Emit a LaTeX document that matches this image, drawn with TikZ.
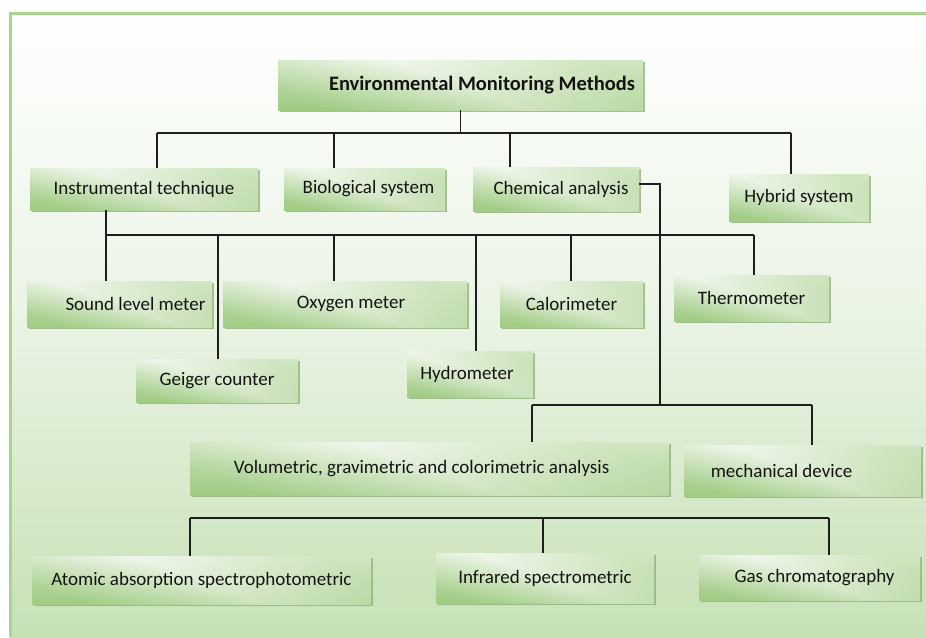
\documentclass[tikz,border=0pt]{standalone}
\usepackage{fontspec}
\setmainfont{Carlito}
\usetikzlibrary{shadows}
\definecolor{gA}{HTML}{A1CC84}
\definecolor{gL}{HTML}{F0F7EC}
\definecolor{shd}{HTML}{8FB07A}
\definecolor{frameG}{HTML}{A9D48F}
\definecolor{bgG}{HTML}{C6E1B6}
\definecolor{bgM}{HTML}{E9F3E3}
\definecolor{lineC}{HTML}{1E1E1E}
\begin{document}
\begin{tikzpicture}[x=1pt,y=-1pt,
  box/.style={rectangle, inner sep=0pt, top color=gL, bottom color=gA,
    path picture={\shade[fill opacity=0.55, left color=gA!70!gL, right color=gA, middle color=gL, shading angle=-20]
      (path picture bounding box.south west) rectangle (path picture bounding box.north east);},
    drop shadow={shadow xshift=2pt, shadow yshift=-2pt, fill=shd, opacity=0.8},
    font=\fontsize{19}{22}\selectfont, text=black!92},
  conn/.style={draw=lineC, line width=1.5pt}]
\useasboundingbox (0,0) rectangle (926,637);
\fill[white] (0,0) rectangle (926,637);
\shade[top color=white, bottom color=bgG, middle color=bgM] (10,13) rectangle (926,637);
\draw[frameG, line width=3pt] (10,637) -- (10,13) -- (926,13);

% boxes
\node[box, minimum width=365pt, minimum height=50pt, font=\fontsize{20.5}{23}\selectfont\bfseries] (title) at (460.5,85) {\hspace*{43pt}Environmental Monitoring Methods};
\node[box, minimum width=228pt, minimum height=42pt] (inst) at (144,189) {Instrumental technique};
\node[box, minimum width=161pt, minimum height=42pt] (bio) at (364.5,189) {\hspace*{8pt}Biological system};
\node[box, minimum width=166pt, minimum height=44pt] (chem) at (556,189) {\hspace*{10pt}Chemical analysis};
\node[box, minimum width=140pt, minimum height=47pt] (hyb) at (799,197.5) {Hybrid system};
\node[box, minimum width=185pt, minimum height=46pt] (sound) at (119.5,304) {\hspace*{32pt}Sound level meter};
\node[box, minimum width=244pt, minimum height=46pt] (oxy) at (345,304) {\hspace*{12pt}Oxygen meter};
\node[box, minimum width=143pt, minimum height=46pt] (calo) at (571.5,304) {Calorimeter};
\node[box, minimum width=155pt, minimum height=46pt] (thermo) at (751.5,298) {Thermometer};
\node[box, minimum width=162pt, minimum height=43pt] (geiger) at (217,380.5) {Geiger counter};
\node[box, minimum width=126pt, minimum height=46pt] (hydro) at (470,374) {Hydrometer\hspace*{6pt}};
\node[box, minimum width=479pt, minimum height=53pt] (vol) at (429.5,468.5) {Volumetric, gravimetric and colorimetric analysis\hspace*{16pt}};
\node[box, minimum width=237pt, minimum height=51pt] (mech) at (802.5,470.5) {mechanical device\hspace*{42pt}};
\node[box, minimum width=339pt, minimum height=48pt] (atomic) at (201.5,580) {Atomic absorption spectrophotometric};
\node[box, minimum width=218pt, minimum height=50pt] (infra) at (545,578) {Infrared spectrometric};
\node[box, minimum width=221pt, minimum height=45pt] (gas) at (809.5,577.5) {\hspace*{10pt}Gas chromatography};

% level 1 bus
\coordinate (b1L) at (157,133);
\coordinate (b1B) at (334,133);
\coordinate (b1C) at (510,133);
\coordinate (b1R) at (791,133);
\draw[conn] (title.south) -- (title.south |- b1L);
\draw[conn] (b1L) -- (b1R);
\draw[conn] (b1L) -- (b1L |- inst.north);
\draw[conn] (b1B) -- (b1B |- bio.north);
\draw[conn] (b1C) -- (b1C |- chem.north);
\draw[conn] (b1R) -- (b1R |- hyb.north);

% instrumental bus
\coordinate (b2L) at (106,235);
\coordinate (b2G) at (218,235);
\coordinate (b2O) at (334,235);
\coordinate (b2H) at (476,235);
\coordinate (b2C) at (571,235);
\coordinate (b2R) at (754,235);
\draw[conn] (inst.south -| b2L) -- (b2L) -- (b2R);
\draw[conn] (b2L) -- (b2L |- sound.north);
\draw[conn] (b2G) -- (b2G |- geiger.north);
\draw[conn] (b2O) -- (b2O |- oxy.north);
\draw[conn] (b2H) -- (b2H |- hydro.north);
\draw[conn] (b2C) -- (b2C |- calo.north);
\draw[conn] (b2R) -- (b2R |- thermo.north);

% chemical bus
\coordinate (b3M) at (660,405);
\coordinate (b3L) at (532,405);
\coordinate (b3R) at (812,405);
\draw[conn] ([yshift=5pt]chem.east) -| (b3M);
\draw[conn] (b3L) -- (b3R);
\draw[conn] (b3L) -- (b3L |- vol.north);
\draw[conn] (b3R) -- (b3R |- mech.north);

% bottom bus
\coordinate (b4L) at (190,518);
\coordinate (b4M) at (543,518);
\coordinate (b4R) at (829,518);
\draw[conn] (b4L) -- (b4R);
\draw[conn] (b4L) -- (b4L |- atomic.north);
\draw[conn] (b4M) -- (b4M |- infra.north);
\draw[conn] (b4R) -- (b4R |- gas.north);
\end{tikzpicture}
\end{document}
